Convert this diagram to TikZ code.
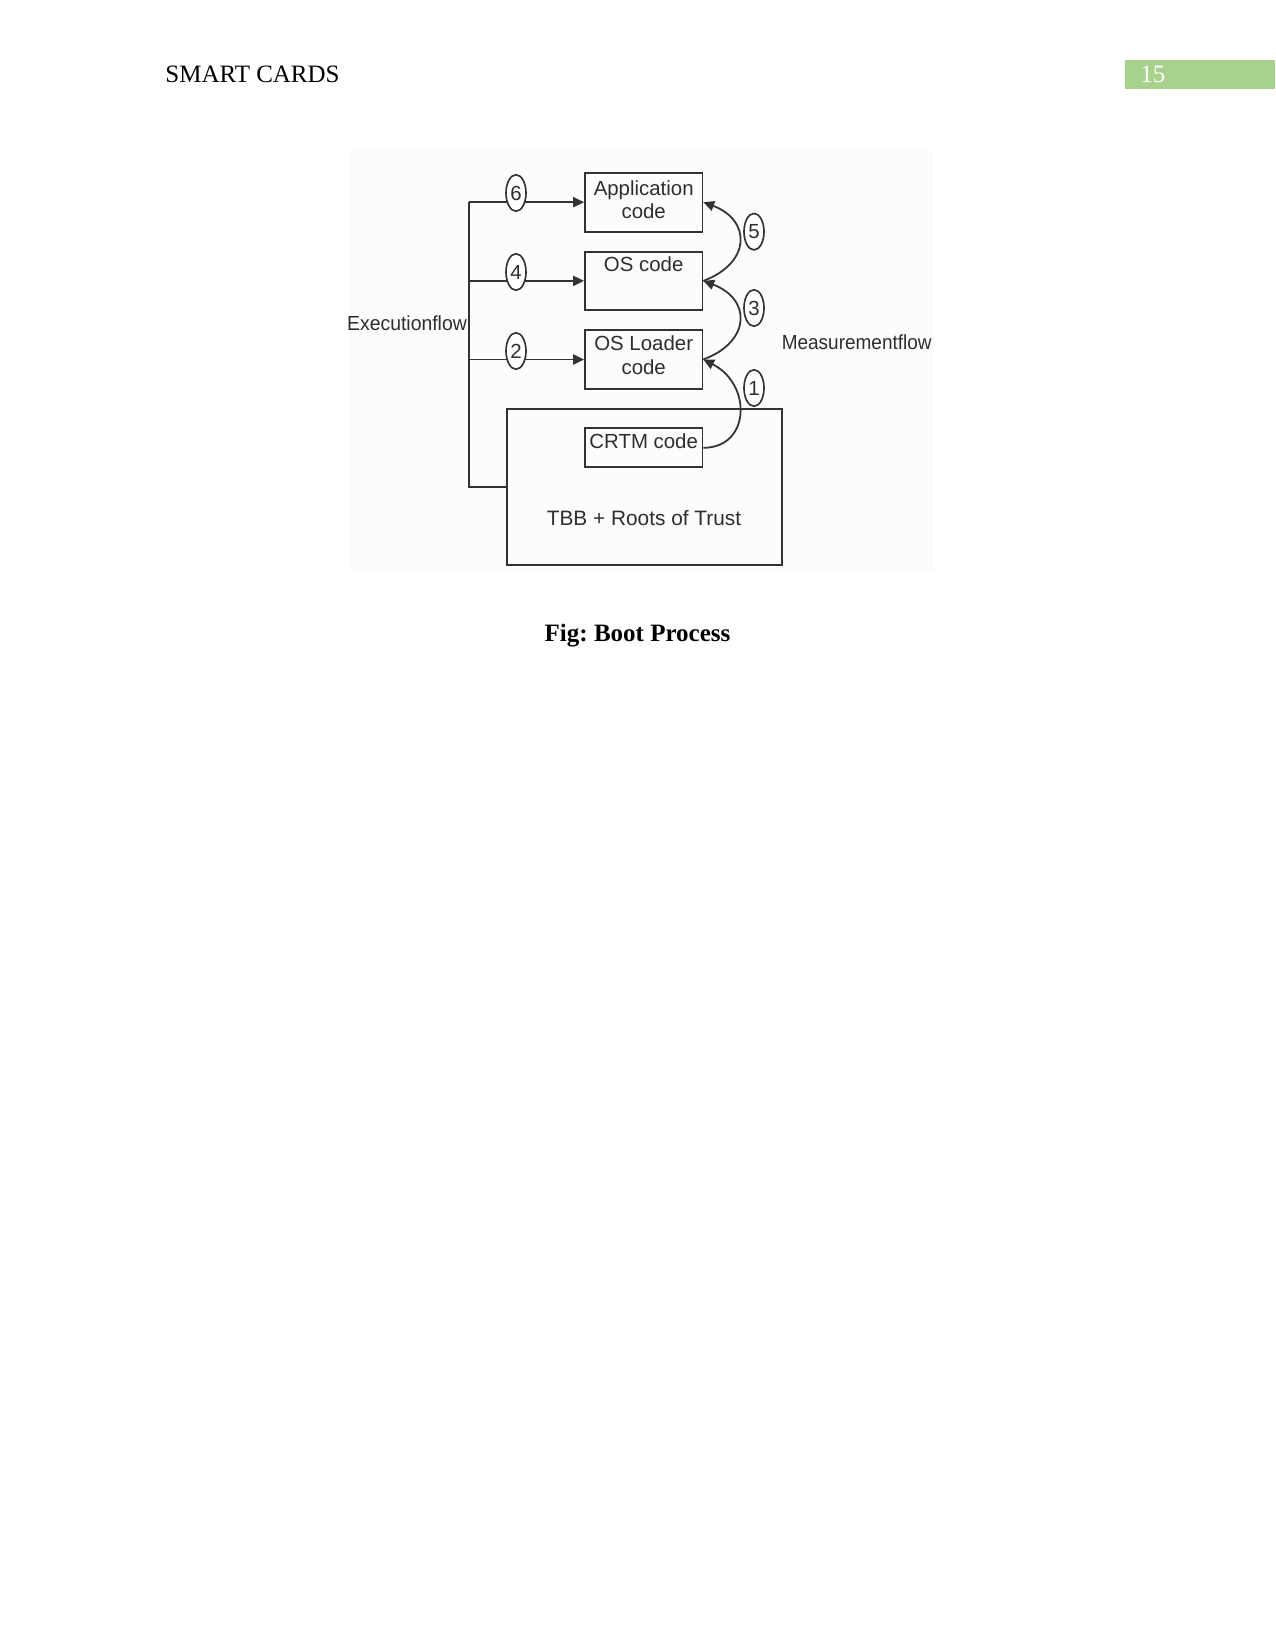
\documentclass[tikz,border=0pt]{standalone}
\usepackage{fontspec}
\setmainfont{Liberation Serif}
\newfontfamily\diafont{Liberation Sans}
\usetikzlibrary{arrows.meta,shapes.geometric}
\frenchspacing
\definecolor{ink}{HTML}{333333}
\definecolor{txt}{HTML}{2E2E2E}
\definecolor{hdrgreen}{HTML}{A9D18E}
\definecolor{imgbg}{HTML}{FCFCFC}
\begin{document}
\begin{tikzpicture}[x=0.48pt,y=-0.48pt,
  box/.style={draw=ink,line width=0.85pt,inner sep=0,minimum width=56.4pt},
  lbl/.style={font=\diafont\fontsize{9.8}{11}\selectfont,text=txt,inner sep=0,anchor=base},
  num/.style={ellipse,draw=ink,line width=0.8pt,fill=white,inner sep=0,minimum width=9.6pt,minimum height=17.5pt,font=\diafont\fontsize{9.8}{11}\selectfont,text=txt},
  flow/.style={draw=ink,line width=0.85pt},
  arr/.style={flow,-{Triangle[length=5.2pt,width=4.8pt]}}]
\useasboundingbox (0,0) rectangle (1275,1651);
\fill[white] (0,0) rectangle (1275,1651);
\fill[imgbg] (350,150) rectangle (934,571);
% header
\node[anchor=base west,inner sep=0,font=\fontsize{12}{14}\selectfont] (hdr) at (165,83) {SMART CARDS};
\node[anchor=north west,fill=hdrgreen,inner sep=0,minimum width=72pt,minimum height=13.6pt] (pagebox) at (1125,60) {};
\node[anchor=base west,inner sep=0,text=white,font=\fontsize{12}{14}\selectfont] (pagenum) at (1140,83) {15};
% boxes
\node[box,minimum height=28.3pt] (app) at (643.7,202.2) {};
\node[box,minimum height=28pt] (os) at (643.7,280.9) {};
\node[box,minimum height=28.3pt] (ld) at (643.7,359.5) {};
\node[box,minimum width=132pt,minimum height=74.9pt] (tbb) at (644.2,487) {};
\node[box,minimum height=18.7pt] (cr) at (643.7,447.8) {};
% box texts
\node[lbl] (appA) at (643.7,195.5) {Application};
\node[lbl] (appB) at (643.7,219) {code};
\node[lbl] (osA) at (643.7,271.5) {OS code};
\node[lbl] (ldA) at (643.7,350) {OS Loader};
\node[lbl] (ldB) at (643.7,374) {code};
\node[lbl] (crA) at (643.7,448.5) {CRTM code};
\node[lbl,font=\diafont\fontsize{10}{12}\selectfont] (tbbA) at (644,525.7) {TBB + Roots of Trust};
\node[lbl] (exec) at (407,330.5) {\scalebox{0.95}[1]{Executionflow}};
\node[lbl] (meas) at (856.7,349) {\scalebox{0.93}[1]{Measurementflow}};
% execution flow
\coordinate (e6) at (469.3,202.2);
\coordinate (e4) at (469.3,280.9);
\coordinate (e2) at (469.3,359.5);
\draw[flow] (e6) |- (tbb.west);
\draw[arr] (e6) -- (app.west);
\draw[arr] (e4) -- (os.west);
\draw[arr] (e2) -- (ld.west);
\node[num] (n6) at (516,193) {6};
\node[num] (n4) at (516,272) {4};
\node[num] (n2) at (516,351) {2};
% measurement flow
\draw[arr] (cr.east) .. controls +(47,0) and +(49,25) .. (ld.east);
\draw[arr] (ld.east) .. controls +(48,-18) and +(48,18) .. (os.east);
\draw[arr] (os.east) .. controls +(48,-18) and +(48,18) .. (app.east);
\node[num] (n5) at (754,231.7) {5};
\node[num] (n3) at (754,308) {3};
\node[num] (n1) at (754,388) {1};
% caption
\node[anchor=base,inner sep=0,font=\bfseries\fontsize{12}{14}\selectfont] (cap) at (637.5,641) {Fig: Boot Process};
\end{tikzpicture}
\end{document}
